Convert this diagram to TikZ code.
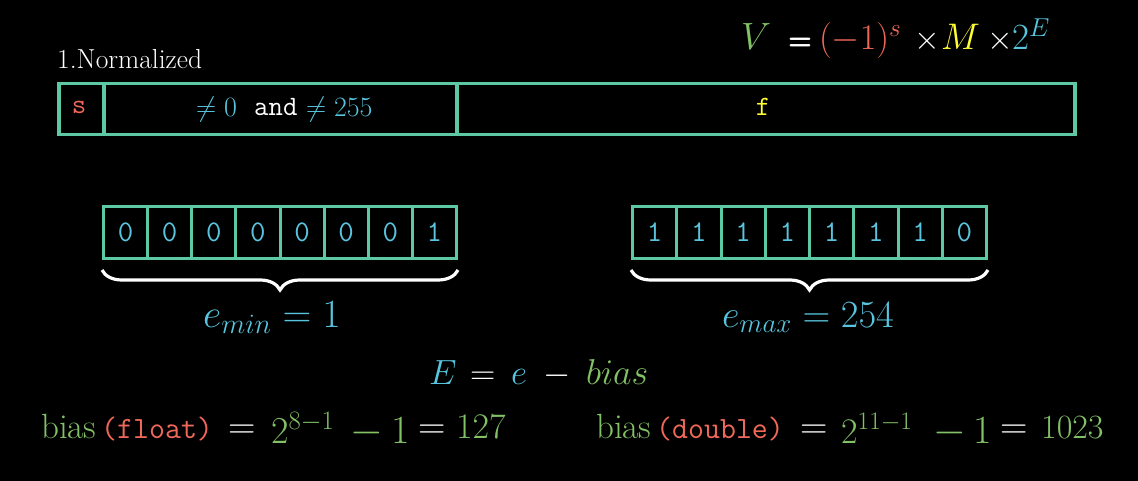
\RequirePackage{fix-cm}
\documentclass[tikz,border=0pt]{standalone}
\usepackage{fontspec}
\usetikzlibrary{decorations.pathreplacing}
\definecolor{tealc}{HTML}{5CC9A4}
\definecolor{mblue}{HTML}{58C4DD}
\definecolor{mgreen}{HTML}{83C167}
\definecolor{mred}{HTML}{F0685A}
\definecolor{myellow}{HTML}{FFFF33}
\newcommand{\fsz}[1]{\fontsize{#1}{#1}\selectfont}
\begin{document}
\begin{tikzpicture}[x=1pt,y=-1pt,
  cellbox/.style={draw=tealc,line width=3.5pt,inner sep=0pt,minimum height=51pt,anchor=north west},
  bitcell/.style={cellbox,line width=3pt,minimum width=44.15pt,minimum height=52pt,text=mblue},
  bitfont/.style={font=\fontsize{30}{30}\selectfont\ttfamily},
  txt/.style={inner sep=0pt,anchor=base,text=white},
  tw/.style={inner sep=0pt,anchor=base west,text=white},
  bracestyle/.style={draw=white,line width=3.2pt,decorate,decoration={brace,mirror,amplitude=20pt}}]
\useasboundingbox[fill=black] (0,0) rectangle (1138,481);

% formula top right
\node[tw] (fV) at (741,50) {\fsz{38}$\color{mgreen}V$};
\node[tw] (fEq) at (788,50) {\fsz{28}\sffamily\bfseries =};
\node[tw] (fS) at (819,50) {\fsz{36}$\color{mred}(-1)^{s}$};
\node[tw] (fX1) at (914,50) {\fsz{33}$\times$};
\node[tw] (fM) at (941,50) {\fsz{37}$\color{myellow}M$};
\node[tw] (fX2) at (987,50) {\fsz{33}$\times$};
\node[tw] (fE) at (1012,50) {\fsz{37}$\color{mblue}2^{E}$};

\node[tw] (title) at (57,69) {\fsz{27.5}1.Normalized};

% top register
\node[cellbox,minimum width=45pt] (sbox) at (57,82) {};
\node[cellbox,minimum width=353pt] (ebox) at (102,82) {};
\node[cellbox,minimum width=618pt] (fbox) at (455,82) {};
\node[txt] (stxt) at (79,114) {\fsz{28}\ttfamily\color{mred}s};
\node[tw] (ne0) at (196,117) {\fsz{28}$\color{mblue}\neq 0$};
\node[tw] (andw) at (254,116) {\fsz{28}\ttfamily and};
\node[tw] (ne255) at (306,117) {\fsz{28}$\color{mblue}\neq 255$};
\node[txt] (ftxt) at (763,116) {\fsz{28}\ttfamily\color{myellow}f};

% left bits
\foreach \b [count=\i from 0] in {0,0,0,0,0,0,0,1}{
  \node[bitcell] (l\i) at (102+44.125*\i,205) {\fsz{30}\ttfamily\b};
}
% right bits
\foreach \b [count=\i from 0] in {1,1,1,1,1,1,1,0}{
  \node[bitcell,minimum width=44.25pt] (r\i) at (631+44.25*\i,205) {\fsz{30}\ttfamily\b};
}
\coordinate (lbA) at ([yshift=-10pt]l0.south west);
\coordinate (lbB) at ([yshift=-10pt]l7.south east);
\coordinate (rbA) at ([yshift=-10pt]r0.south west);
\coordinate (rbB) at ([yshift=-10pt]r7.south east);
\draw[bracestyle] (lbA) -- (lbB);
\draw[bracestyle] (rbA) -- (rbB);

\node[txt] (emin) at (272,327) {\fsz{40}$\color{mblue}e_{min}=1$};
\node[txt] (emax) at (808,327) {\fsz{38.5}$\color{mblue}e_{max}=254$};

% E = e - bias
\node[tw] (eE) at (429,384) {\fsz{35}$\color{mblue}E$};
\node[tw] (eEq) at (470,384) {\fsz{35}$=$};
\node[tw] (ee) at (511,384) {\fsz{35}$\color{mblue}e$};
\node[tw] (eMinus) at (543,384) {\fsz{35}$-$};
\node[tw] (eBias) at (586,384) {\fsz{36}$\color{mgreen}bias$};

% bias(float)
\node[tw] (bf1) at (41,438) {\fsz{35}\color{mgreen}bias};
\node[tw] (bf2) at (101,438) {\fsz{31}\ttfamily\color{mred}(float)};
\node[tw] (bf3) at (228,438) {\fsz{38}$=$};
\node[tw] (bf4) at (271,443) {\fsz{38}$\color{mgreen}2^{8-1}$};
\node[tw] (bf5) at (350,443) {\fsz{42}$\color{mgreen}-$};
\node[tw] (bf6) at (391,443) {\fsz{40}$\color{mgreen}1$};
\node[tw] (bf7) at (418,438) {\fsz{38}$=$};
\node[tw] (bf8) at (456,438) {\fsz{36}$\color{mgreen}127$};

% bias(double)
\node[tw] (bd1) at (596,438) {\fsz{35}\color{mgreen}bias};
\node[tw] (bd2) at (656,438) {\fsz{31}\ttfamily\color{mred}(double)};
\node[tw] (bd3) at (800,438) {\fsz{38}$=$};
\node[tw] (bd4) at (841,443) {\fsz{36}$\color{mgreen}2^{11-1}$};
\node[tw] (bd5) at (933,443) {\fsz{42}$\color{mgreen}-$};
\node[tw] (bd6) at (973,443) {\fsz{40}$\color{mgreen}1$};
\node[tw] (bd7) at (1000,438) {\fsz{38}$=$};
\node[tw] (bd8) at (1041,438) {\fsz{34}$\color{mgreen}1023$};
\end{tikzpicture}
\end{document}
